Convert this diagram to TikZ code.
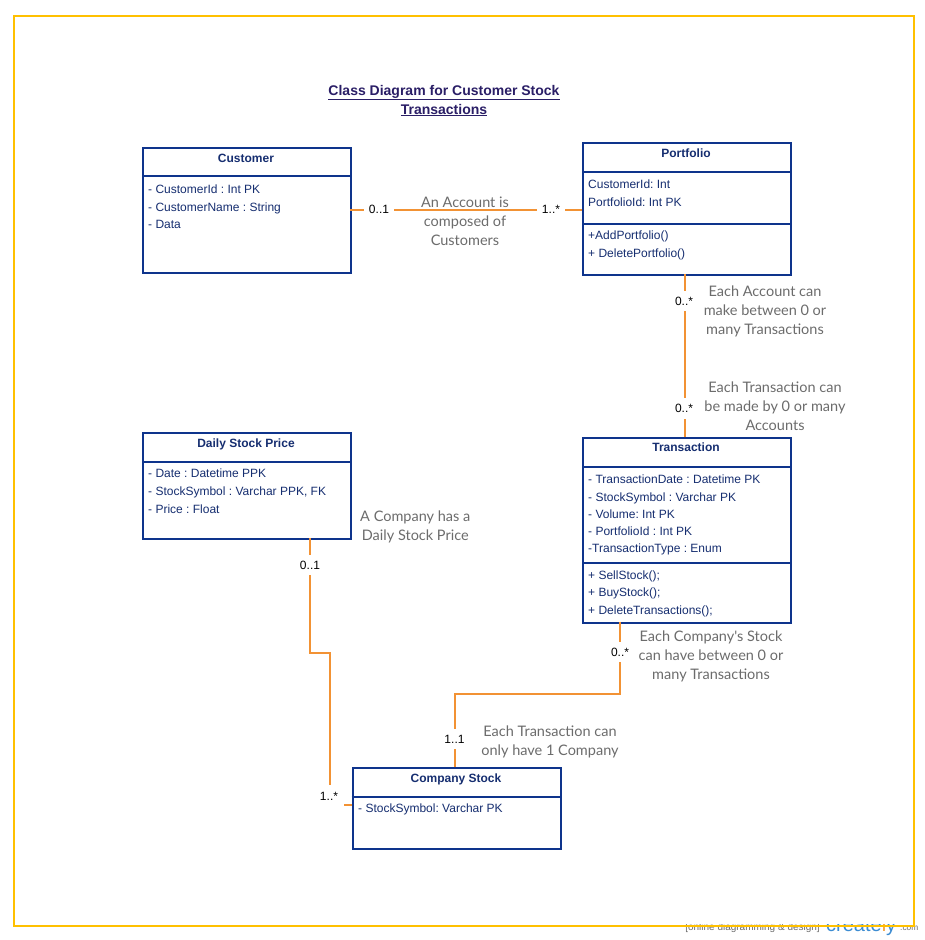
\documentclass[tikz,border=0pt]{standalone}
\usepackage{fontspec}
\setmainfont{Liberation Sans}
\newfontfamily\latofont{Lato}
\frenchspacing
\definecolor{boxc}{RGB}{14,52,140}
\definecolor{textc}{RGB}{22,46,112}
\definecolor{linec}{RGB}{242,146,52}
\definecolor{framec}{RGB}{255,192,0}
\definecolor{notec}{RGB}{108,108,108}
\definecolor{titlec}{RGB}{42,30,102}
\definecolor{wmblue}{RGB}{60,140,210}
\definecolor{wmorange}{RGB}{245,160,60}
\begin{document}
\begin{tikzpicture}[x=1pt,y=-1pt,
  cls/.style={draw=boxc, line width=2pt, fill=white, anchor=north west, inner sep=0pt},
  ttl/.style={font=\fontsize{12}{14}\selectfont\bfseries, text=textc, anchor=base, inner sep=0pt},
  attr/.style={font=\fontsize{12}{14}\selectfont, text=textc, anchor=base west, inner sep=0pt},
  note/.style={font=\latofont\fontsize{14.5}{19}\selectfont, text=notec, align=center, inner sep=0pt},
  mult/.style={font=\fontsize{12}{14}\selectfont, fill=white, text=black, inner xsep=5pt, inner ysep=6pt},
  conn/.style={draw=linec, line width=2pt},
  divl/.style={draw=boxc, line width=2pt}]
\clip (0,0) rectangle (925,940);
\fill[white] (0,0) rectangle (925,940);

% watermark (partly hidden under the canvas)
\node[font=\fontsize{10}{11}\selectfont, text=notec, anchor=base east, inner sep=0pt] (wm1) at (820,930) {[online diagramming \& design]};
\node[font=\fontsize{20}{22}\selectfont, text=wmblue, anchor=base west, inner sep=0pt] (wm2) at (826,931) {create\textcolor{wmorange}{l}y};
\node[font=\fontsize{8.3}{10}\selectfont, text=notec, anchor=base west, inner sep=0pt] (wm3) at (900,930) {.com};
\fill[white] (0,0) rectangle (925,924);

% frame
\node[draw=framec, line width=2pt, minimum width=900pt, minimum height=910pt, anchor=north west, inner sep=0pt] (frame) at (13,15) {};

% title
\node[font=\fontsize{14}{19}\selectfont\bfseries, text=titlec, align=center, inner sep=0pt] (title) at (444,100.5)
  {\underline{Class Diagram for Customer Stock}\\\underline{Transactions}};

% Customer
\node[cls, minimum width=208pt, minimum height=124.7pt] (cust) at (142,147) {};
\draw[divl] (142,176) -- (350,176);
\node[ttl] (custt) at (246,162) {Customer};
\node[attr] (ca1) at (148,193) {- CustomerId : Int PK};
\node[attr] (ca2) at (148,211) {- CustomerName : String};
\node[attr] (ca3) at (148,228) {- Data};

% Portfolio
\node[cls, minimum width=208pt, minimum height=132.3pt] (port) at (582,141.7) {};
\draw[divl] (582,172) -- (790,172);
\draw[divl] (582,224) -- (790,224);
\node[ttl] (portt) at (686,157) {Portfolio};
\node[attr] (pa1) at (588,188.3) {CustomerId: Int};
\node[attr] (pa2) at (588,206) {PortfolioId: Int PK};
\node[attr] (pm1) at (588,239.3) {+AddPortfolio()};
\node[attr] (pm2) at (588,257.6) {+ DeletePortfolio()};

% Transaction
\node[cls, minimum width=208pt, minimum height=184.7pt] (trans) at (582,437) {};
\draw[divl] (582,467) -- (790,467);
\draw[divl] (582,563) -- (790,563);
\node[ttl] (transt) at (686,451.6) {Transaction};
\node[attr] (ta1) at (588,483.3) {- TransactionDate : Datetime PK};
\node[attr] (ta2) at (588,501) {- StockSymbol : Varchar PK};
\node[attr] (ta3) at (588,518) {- Volume: Int PK};
\node[attr] (ta4) at (588,535.3) {- PortfolioId : Int PK};
\node[attr] (ta5) at (588,552.6) {-TransactionType : Enum};
\node[attr] (tm1) at (588,579.3) {+ SellStock();};
\node[attr] (tm2) at (588,596.6) {+ BuyStock();};
\node[attr] (tm3) at (588,614.3) {+ DeleteTransactions();};

% Daily Stock Price
\node[cls, minimum width=208pt, minimum height=106.3pt] (dsp) at (142,432) {};
\draw[divl] (142,462) -- (350,462);
\node[ttl] (dspt) at (246,447) {Daily Stock Price};
\node[attr] (da1) at (148,477.6) {- Date : Datetime PPK};
\node[attr] (da2) at (148,495.3) {- StockSymbol : Varchar PPK, FK};
\node[attr] (da3) at (148,513) {- Price : Float};

% Company Stock
\node[cls, minimum width=208.3pt, minimum height=81pt] (comp) at (351.7,767) {};
\draw[divl] (351.7,797) -- (560,797);
\node[ttl] (compt) at (456,782) {Company Stock};
\node[attr] (ka1) at (358,812.6) {- StockSymbol: Varchar PK};

% connectors
\coordinate (c1a) at (350,210);
\coordinate (c1b) at (582,210);
\draw[conn] (c1a) -- (c1b);
\node[mult] (m1) at (379,209) {0..1};
\node[mult] (m2) at (551,209) {1..*};

\coordinate (c2a) at (685,274);
\coordinate (c2b) at (685,437);
\draw[conn] (c2a) -- (c2b);
\node[mult] (m3) at (684,301) {0..*};
\node[mult] (m4) at (684,408.5) {0..*};

\coordinate (c3a) at (620,621.7);
\coordinate (c3b) at (454.5,767);
\draw[conn] (c3a) |- (537,694.3) -| (c3b);
\node[mult] (m5) at (620,652) {0..*};
\node[mult] (m6) at (454.5,739) {1..1};

\coordinate (c4a) at (310,538.3);
\coordinate (c4b) at (351.7,805);
\draw[conn] (c4a) |- (320,652.7) -| (330,730) |- (c4b);
\node[mult] (m7) at (310,565) {0..1};
\node[mult, minimum width=30pt, minimum height=23pt] (m8) at (329,796) {1..*};

% notes
\node[note] (n1) at (465,221) {An Account is\\composed of\\Customers};
\node[note] (n2) at (765,311) {Each Account can\\make between 0 or\\many Transactions};
\node[note] (n3) at (775,406) {Each Transaction can\\be made by 0 or many\\Accounts};
\node[note] (n4) at (415.3,527) {A Company has a\\Daily Stock Price};
\node[note] (n5) at (711,656) {Each Company's Stock\\can have between 0 or\\many Transactions};
\node[note] (n6) at (550,741.5) {Each Transaction can\\only have 1 Company};
\end{tikzpicture}
\end{document}
